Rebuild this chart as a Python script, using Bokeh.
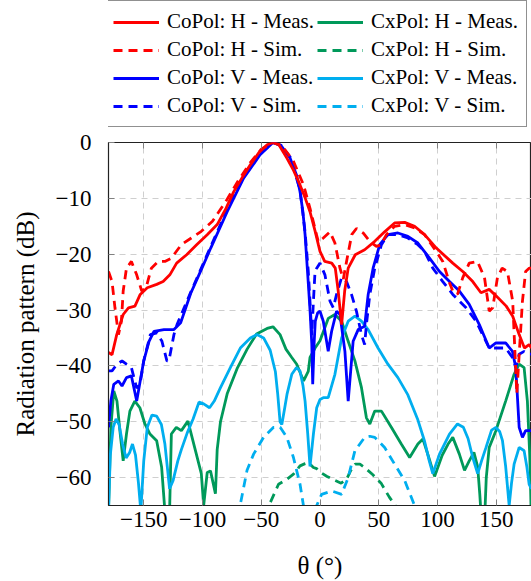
from bokeh.plotting import figure
from bokeh.layouts import column
from bokeh.models import Legend, LegendItem, FixedTicker, LinearAxis, Range1d
from bokeh.embed import file_html
from bokeh.resources import INLINE

# ---------------- data ----------------
copol_h_meas_x = [-180, -177, -173, -167.5, -163, -157.5, -153, -147, -139, -133.5, -127.8, -122, -113.5, -105, -96,
                  -87.5, -80, -73.4, -66, -59.3, -52, -45, -40, -35, -28.2, -22.5, -17, -12.5, -8.5, -4, -1.4, 0,
                  4, 10, 13, 15.5, 18.4, 21, 24, 30, 38, 46.6, 55, 63.5, 72, 80.5, 89, 99, 113, 121.5, 130, 137,
                  144, 151.5, 158.5, 164, 169.5, 174, 178, 180]
copol_h_meas_y = [-37.6, -38, -34.4, -30.8, -29.6, -29.3, -27.2, -26, -25.4, -24.9, -23.7, -21.6, -20.1, -18.3, -16.5,
                  -14.7, -11.8, -8.8, -6.2, -4, -1.8, -0.4, 0, -0.4, -2.8, -5, -7.6, -10, -12.4, -16, -18.3, -19.5,
                  -21.3, -21.6, -22.5, -26.6, -32.6, -26.6, -22.5, -20.1, -19.2, -17.7, -16, -14.4, -14.3, -15, -16.5,
                  -18.9, -21.6, -23.1, -24.9, -26.9, -26.3, -27.8, -29.3, -31.1, -34.4, -36.8, -36.2, -36.8]

copol_h_sim_x = [-180, -177, -174.5, -171.5, -169, -167.5, -164.7, -160.5, -156, -151.7, -148, -143.5, -137.8, -132,
                 -126.5, -118, -109.5, -101, -91.5, -80, -70, -60, -50, -40, -33, -28, -22.5, -14, -8.5, -3, -1.4,
                 2.8, 8.5, 12.7, 17, 19.8, 22.6, 27, 31, 36.7, 42.4, 48, 52, 56.5, 63.5, 72, 80.5, 89, 96, 104.5,
                 110, 113, 117, 121.5, 127, 134, 140, 144, 147, 151, 155, 159.5, 164, 166, 167.5, 169.5, 172.3, 175,
                 178, 180]
copol_h_sim_y = [-23.1, -24.9, -29.6, -34.4, -32, -26.6, -22.5, -21.3, -23.7, -26.6, -26, -22.5, -21.3, -21.3, -20.7,
                 -18.3, -17.1, -15.9, -14.1, -10.5, -7, -3.8, -1.2, 0, -0.5, -1.8, -3.4, -7.6, -11.8, -16.5, -17.8,
                 -17.1, -16, -18, -22.5, -24.5, -21.3, -16.5, -15.4, -16.2, -17.7, -18.6, -18.3, -16.5, -15, -14.7,
                 -15.3, -16.5, -18.6, -21.3, -25, -26.6, -27.2, -24.2, -21.6, -21.3, -24.2, -30.2, -29.6, -24.2,
                 -22.5, -23.1, -28.4, -38, -45, -38, -28.4, -23.1, -22.5, -22.5]

copol_v_meas_x = [-180, -178, -175.5, -171.5, -168.5, -164.7, -160.5, -156, -150, -145.5, -141.3, -132.8, -124.3,
                  -118.6, -110, -101.5, -93, -79, -65, -51, -40, -33, -25.4, -20, -17, -14.5, -12.7, -9.9, -8.5, -7,
                  -6.2, -5, -4, -2, 0, 2.8, 5.6, 7, 9.9, 14.1, 17, 21.2, 24, 28.2, 32.5, 38, 41, 45.2, 50.8, 57.8,
                  66.3, 74.8, 83.3, 93.2, 101.7, 110.2, 118.6, 127, 135.6, 144, 149.7, 158, 163.8, 166.6, 169.5,
                  172.3, 175, 180]
copol_v_meas_y = [-51, -46.3, -43.3, -42.7, -43.6, -42.1, -41.8, -46.3, -39.1, -35.6, -33.8, -33.5, -33.5, -32.3, -27,
                  -23, -18.9, -12.4, -6.4, -2.2, 0, -0.6, -2.8, -5.8, -8.8, -12.5, -16.5, -25.4, -30, -36, -43.3, -36,
                  -32, -30.5, -30.2, -32, -35.6, -37.4, -33.8, -30.2, -30.8, -37.4, -46.3, -35.6, -33.5, -32.9, -27.2,
                  -22.5, -18.3, -16.5, -16.2, -16.8, -18, -20.7, -23.1, -24.9, -26.6, -29, -32.6, -36.8, -35.9, -35.9,
                  -37.4, -40.3, -51, -52.8, -51.6, -51.6]

copol_v_sim_x = [-180, -177, -172.8, -168.5, -164.7, -160.5, -156, -153, -150, -144.4, -138.8, -134.5, -130.3, -128.6,
                 -124.3, -121.5, -110, -93, -79, -65, -51, -40, -33, -25.4, -17, -12.7, -10, -8.5, -7, -5.5, -4.2,
                 -2.8, 0, 4.2, 8.5, 11.3, 14.1, 18.4, 22.6, 26.8, 31, 35.3, 38, 39.5, 42.4, 46.6, 52.3, 57.8, 66.3,
                 74.8, 83.3, 89, 96, 104.5, 113, 115.8, 124.3, 132.8, 139.8, 144, 152.5, 158, 163.8, 166.6, 169.5,
                 173.7, 178, 180]
copol_v_sim_y = [-40.9, -40.9, -39.7, -39.1, -39.7, -40.3, -44, -43, -39.1, -34.4, -34.1, -35.6, -39.1, -39.1, -34.4,
                 -32.5, -26.8, -18.6, -12, -6.2, -2, 0, -0.5, -2.6, -8.5, -16, -23, -28.5, -34.5, -28, -23, -22.5,
                 -21.6, -23.7, -28.4, -29.6, -27.2, -24.2, -24.9, -27.2, -30.2, -34.4, -36.2, -32.6, -27.2, -22.5,
                 -18.3, -16.5, -16.5, -17.1, -18.3, -19.5, -22.5, -24.9, -27.2, -27.8, -29.6, -32, -35, -36.8, -36.8,
                 -36.8, -38.5, -40.3, -37.9, -37.4, -37.9, -37.9]

cxpol_h_meas_x = [-180, -178, -175.5, -172.8, -170, -167.5, -164.7, -161.8, -157.6, -153.3, -149, -144.7, -139,
                  -134.8, -132, -130, -128, -126.5, -122.3, -118, -112.4, -106.7, -101, -99, -96, -93.2, -89, -87.5,
                  -84.7, -79, -70.6, -62, -54, -45, -40, -34, -29, -24, -19.8, -14, -10, -8.5, -4.2, 0, 7, 12.7,
                  18.4, 24, 29.7, 35.3, 39.5, 42.4, 46.6, 52.3, 60.7, 69.2, 76.3, 83.3, 87.6, 92, 97.5, 104, 109,
                  113, 118.6, 123, 127, 131, 134.2, 136, 137.5, 140, 141.5, 144, 149.7, 158, 165.2, 169.5, 173.7,
                  176.5, 178.5, 180]
cxpol_h_meas_y = [-66, -51, -44.5, -46.3, -52.2, -57, -52.2, -48.1, -46.3, -47.5, -50.4, -52.2, -53.4, -58.1, -66,
                  -68, -66, -52.2, -51, -51.6, -49.9, -54.6, -59.3, -65, -59.1, -58.8, -62.9, -55, -50, -45, -40.5,
                  -37, -34.3, -33.3, -33, -34.4, -37, -38.5, -39.7, -42.7, -41, -38.5, -36.8, -35.5, -31.5, -30.8,
                  -32, -35.6, -39.1, -43.9, -49.3, -50.4, -48.1, -48.1, -51, -54, -56.4, -54, -53.1, -56, -59.8,
                  -56, -54, -52.8, -55.8, -58.7, -57, -55.5, -58.1, -63, -68, -68, -60, -54.6, -51.6, -46.3, -41.5,
                  -39.7, -40.3, -46.3, -56, -68]

cxpol_h_sim_x = [-45, -42.4, -35.3, -28.2, -22.6, -17, -12.7, -9.9, -5.6, -2.8, 0, 6, 12.7, 18, 22.6, 26, 30, 34, 38,
                 45, 52, 59, 64, 67]
cxpol_h_sim_y = [-67, -64.5, -61.2, -60.3, -59.4, -57.9, -57.5, -57.3, -58.2, -58.4, -59, -59.8, -60.5, -61, -60.3,
                 -58.8, -57.6, -57.6, -58.2, -59.5, -61, -63.5, -65, -67]

cxpol_v_meas_x = [-180, -178.5, -176, -173.6, -171, -168, -165, -162, -159.6, -157, -154.5, -152.5, -150, -147, -143,
                  -139, -135, -132, -130, -128, -125, -121, -118, -113, -108, -103, -99, -94, -90, -84.7, -76.3, -67.8,
                  -59.3, -53.7, -48, -42.4, -38, -36, -34, -32.5, -30, -28, -24, -20, -17, -14.5, -12.7, -10.5, -8.5,
                  -6.5, -5.6, -2.8, 0, 2.8, 7, 12.7, 18.4, 24, 29.7, 35.3, 41, 49.4, 57.8, 66.3, 74.8, 83, 89, 93, 96,
                  101.7, 110.2, 117, 122, 126, 130, 134.2, 137.5, 141.3, 146, 149.7, 153, 155.3, 158, 161, 163, 165.2,
                  169.5, 173.7, 176, 178, 180]
cxpol_v_meas_y = [-66, -56, -51, -49.5, -50.5, -54, -56.5, -55.5, -54, -56, -61, -66, -57, -51, -48.8, -49, -50.5,
                  -54, -58, -62, -60.5, -57, -55, -52, -49.5, -46.5, -46.8, -47.5, -46.3, -43.9, -40.3, -36.8, -35,
                  -34.4, -35, -37.2, -41, -45, -50, -50.5, -47.5, -45, -41.5, -40.3, -40.9, -43.5, -46.3, -52, -58,
                  -54, -52.2, -47.5, -46, -45.7, -45.7, -41.5, -35, -32, -31.1, -32, -33.5, -36.8, -39.7, -42.1, -45.2,
                  -49.5, -53.5, -57, -59.3, -55.8, -52.2, -50.4, -51, -53, -56.4, -59.3, -57, -54.6, -51.5, -51,
                  -51.8, -53.4, -58, -65, -61, -57.6, -54.6, -55.2, -58, -61.2, -62]

cxpol_v_sim_x = [-70, -68, -62.1, -56.5, -48, -39.5, -33.9, -28.2, -22.6, -17, -14.1, -12, -4, -2.8, 1.4, 9.9, 18.4,
                 24, 29.7, 38, 42.4, 46.6, 55, 63.5, 72, 80.5, 82]
cxpol_v_sim_y = [-67, -65, -58.7, -55.8, -52.8, -51, -51, -52.8, -56.4, -61.2, -65, -68, -68, -65, -63, -62.4, -63,
                 -60, -55.2, -52.8, -52.6, -52.8, -54.6, -57.6, -60.5, -65, -67]

x_ticks = [-150, -100, -50, 0, 50, 100, 150]
x_tick_labels = ["\u2212150", "\u2212100", "\u221250", "0", "50", "100", "150"]
y_ticks = [-60, -50, -40, -30, -20, -10, 0]
y_tick_labels = ["\u221260", "\u221250", "\u221240", "\u221230", "\u221220", "\u221210", "0"]

series = [
    ("CoPol: H - Meas.", copol_h_meas_x, copol_h_meas_y, "#ff0000", "solid"),
    ("CoPol: H - Sim.", copol_h_sim_x, copol_h_sim_y, "#ff0000", "9 6"),
    ("CoPol: V - Meas.", copol_v_meas_x, copol_v_meas_y, "#0000ff", "solid"),
    ("CoPol: V - Sim.", copol_v_sim_x, copol_v_sim_y, "#0000ff", "9 6"),
    ("CxPol: H - Meas.", cxpol_h_meas_x, cxpol_h_meas_y, "#00995a", "solid"),
    ("CxPol: H - Sim.", cxpol_h_sim_x, cxpol_h_sim_y, "#00995a", "9 6"),
    ("CxPol: V - Meas.", cxpol_v_meas_x, cxpol_v_meas_y, "#00aeef", "solid"),
    ("CxPol: V - Sim.", cxpol_v_sim_x, cxpol_v_sim_y, "#00aeef", "9 6"),
]

FONT = "Liberation Serif"
LW = 2.8
LEG_H = 128

# ---------------- main plot ----------------
p = figure(width=531, height=581 - LEG_H, output_backend="svg", toolbar_location=None,
           x_range=Range1d(-180, 180), y_range=Range1d(-65, 0),
           min_border_left=108, min_border_right=0, min_border_top=142 - LEG_H, min_border_bottom=74)
p.background_fill_color = "white"
p.border_fill_color = "white"
p.outline_line_color = "#222222"
p.outline_line_width = 1.2

draw_order = [4, 5, 6, 7, 3, 2, 1, 0]
for i in draw_order:
    label, xs, ys, color, dash = series[i]
    p.line(xs, ys, line_color=color, line_width=LW, line_dash=dash)

for ax in (p.xaxis[0], p.yaxis[0]):
    ax.major_label_text_font = FONT
    ax.major_label_text_font_size = "23px"
    ax.major_label_text_color = "black"
    ax.axis_label_text_font = FONT
    ax.axis_label_text_font_style = "normal"
    ax.axis_label_text_font_size = "25px"
    ax.axis_label_text_color = "black"
    ax.axis_line_color = "#222222"
    ax.major_tick_line_color = "#808080"
    ax.major_tick_in = 6
    ax.major_tick_out = 0
    ax.minor_tick_line_color = None

p.xaxis[0].ticker = FixedTicker(ticks=x_ticks)
p.yaxis[0].ticker = FixedTicker(ticks=y_ticks)
p.xaxis[0].major_label_overrides = {float(t): s for t, s in zip(x_ticks, x_tick_labels)}
p.yaxis[0].major_label_overrides = {float(t): s for t, s in zip(y_ticks, y_tick_labels)}
p.xaxis[0].axis_label = "\u03b8 (\u00b0)"
p.yaxis[0].axis_label = "Radiation pattern (dB)"
p.xaxis[0].major_label_standoff = 6
p.xaxis[0].axis_label_standoff = 22
p.yaxis[0].major_label_standoff = 17
p.yaxis[0].axis_label_standoff = 14

top_axis = LinearAxis(ticker=FixedTicker(ticks=x_ticks),
                      major_label_overrides={float(t): "" for t in x_ticks},
                      major_label_standoff=0, axis_line_color=None, major_tick_in=6, major_tick_out=0,
                      major_tick_line_color="#808080", minor_tick_line_color=None)
p.add_layout(top_axis, "above")

for g in (p.xgrid[0], p.ygrid[0]):
    g.grid_line_color = "#cfcfcf"
    g.grid_line_dash = "6 5"
    g.grid_line_width = 1
p.xgrid[0].ticker = FixedTicker(ticks=x_ticks)
p.ygrid[0].ticker = FixedTicker(ticks=y_ticks)

# ---------------- legend strip (series drawn outside its visible range) ----------------
q = figure(width=531, height=LEG_H, output_backend="svg", toolbar_location=None,
           x_range=Range1d(-180, 180), y_range=Range1d(10, 20), x_axis_type=None, y_axis_type=None,
           min_border_left=0, min_border_right=0, min_border_top=0, min_border_bottom=0)
q.outline_line_color = None
q.xgrid.visible = False
q.ygrid.visible = False
q.background_fill_color = "white"
q.border_fill_color = "white"

items = []
for label, xs, ys, color, dash in series:
    r = q.line(xs, ys, line_color=color, line_width=LW, line_dash=dash)
    items.append(LegendItem(label=label, renderers=[r]))

legend = Legend(items=items, location=(-4, 1), ncols=2,
                label_text_font=FONT, label_text_font_size="21px", label_text_color="black",
                label_height=22, glyph_height=22, glyph_width=46, label_standoff=8,
                spacing=3, padding=8, margin=0,
                border_line_color="#222222", border_line_width=1.2,
                background_fill_color="white", background_fill_alpha=1.0)
q.add_layout(legend, "center")

layout = column(q, p, spacing=0)
open("out.html", "w").write(file_html(layout, INLINE))
